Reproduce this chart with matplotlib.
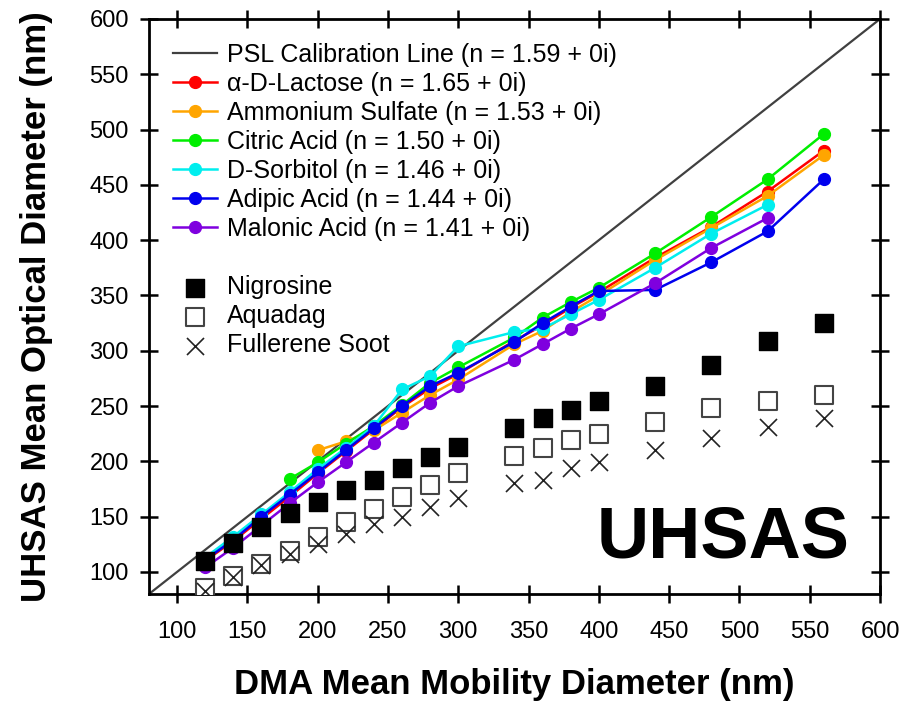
import matplotlib
matplotlib.use("Agg")
import matplotlib.pyplot as plt
from matplotlib.lines import Line2D
import numpy as np

plt.rcParams['font.family'] = ['Liberation Sans', 'DejaVu Sans']

# ---------------- data ----------------
dma_all = [120, 140, 160, 180, 200, 220, 240, 260, 280, 300, 340, 360, 380, 400, 440, 480, 520, 560]

psl_x = [80, 600]
psl_y = [80, 600]

lactose_x = dma_all
lactose_y = [110, 128, 148, 168, 189, 209, 229, 249, 266, 279, 309, 323, 339, 353, 384, 412, 444, 481]

ammsulf_x = [200, 220, 240, 260, 280, 300, 340, 360, 380, 400, 440, 480, 520, 560]
ammsulf_y = [210, 218, 228, 244, 260, 274, 306, 318, 335, 350, 382, 411, 440, 477]

citric_x = [180, 200, 220, 240, 260, 280, 300, 340, 360, 380, 400, 440, 480, 520, 560]
citric_y = [184, 199, 216, 232, 251, 271, 285, 312, 330, 344, 357, 388, 421, 455, 496]

sorbitol_x = [120, 140, 160, 180, 200, 220, 240, 260, 280, 300, 340, 360, 380, 400, 440, 480, 520]
sorbitol_y = [113, 132, 152, 172, 193, 212, 232, 265, 277, 304, 317, 320, 333, 346, 375, 406, 432]

adipic_x = dma_all
adipic_y = [111, 129, 150, 170, 190, 210, 230, 250, 268, 280, 308, 325, 340, 354, 355, 380, 408, 455]

malonic_x = [120, 140, 160, 180, 200, 220, 240, 260, 280, 300, 340, 360, 380, 400, 440, 480, 520]
malonic_y = [104, 122, 142, 162, 181, 199, 217, 235, 253, 268, 292, 306, 320, 333, 361, 393, 420]

nigrosine_y = [110, 126, 141, 153, 163, 174, 183, 194, 204, 213, 230, 239, 246, 255, 268, 287, 309, 325]
aquadag_y = [85, 96, 107, 119, 132, 145, 157, 168, 179, 189, 205, 212, 219, 225, 236, 248, 255, 260]
fullerene_y = [83, 95, 106, 116, 125, 134, 143, 150, 159, 167, 180, 183, 194, 199, 210, 221, 231, 239]

series = [
    ("\u03b1-D-Lactose (n = 1.65 + 0i)", lactose_x, lactose_y, "#ff0000"),
    ("Ammonium Sulfate (n = 1.53 + 0i)", ammsulf_x, ammsulf_y, "#ffa500"),
    ("Citric Acid (n = 1.50 + 0i)", citric_x, citric_y, "#00ee00"),
    ("D-Sorbitol (n = 1.46 + 0i)", sorbitol_x, sorbitol_y, "#00eeee"),
    ("Adipic Acid (n = 1.44 + 0i)", adipic_x, adipic_y, "#0000ee"),
    ("Malonic Acid (n = 1.41 + 0i)", malonic_x, malonic_y, "#7f00df"),
]

ticks = [100, 150, 200, 250, 300, 350, 400, 450, 500, 550, 600]

# ---------------- figure ----------------
fig = plt.figure(figsize=(9.05, 7.06), dpi=100)
ax = fig.add_axes([0.1646, 0.1586, 0.8078, 0.8145])

handles = []
labels = []
h, = ax.plot(psl_x, psl_y, color="#404040", lw=1.6, zorder=2)
handles.append(h); labels.append("PSL Calibration Line (n = 1.59 + 0i)")

for name, xs, ys, c in series:
    h, = ax.plot(xs, ys, color=c, lw=1.8, marker='o', ms=8.5, mec=c, mfc=c, zorder=3)
    handles.append(h); labels.append(name)

h1 = ax.scatter(dma_all, nigrosine_y, marker='s', s=155, color='black', zorder=4)
h2 = ax.scatter(dma_all, aquadag_y, marker='s', s=155, facecolors='white', edgecolors='#444444', linewidths=1.5, zorder=4)
h3 = ax.scatter(dma_all, fullerene_y, marker='x', s=150, color='#222222', linewidths=1.2, zorder=4)

blank = Line2D([], [], linestyle='none', marker=None)
handles += [blank, h1, h2, h3]
labels += [" ", "Nigrosine", "Aquadag", "Fullerene Soot"]

leg = ax.legend(handles, labels, loc='upper left', bbox_to_anchor=(0.033, 0.958),
                frameon=False, fontsize=18, handlelength=1.76, handletextpad=0.4,
                labelspacing=0.2, borderaxespad=0, borderpad=0)

ax.set_xlim(80, 600)
ax.set_ylim(80, 600)
ax.set_xticks(ticks)
ax.set_yticks(ticks)
ax.tick_params(axis='both', which='major', direction='inout', length=13, width=1.8,
               labelsize=17, pad=8, top=True, right=True)
ax.tick_params(axis='x', pad=13)
for s in ax.spines.values():
    s.set_linewidth(2)

ax.set_xlabel("DMA Mean Mobility Diameter (nm)", fontsize=25, fontweight='bold', labelpad=18)
ax.set_ylabel("UHSAS Mean Optical Diameter (nm)", fontsize=25, fontweight='bold', labelpad=26)

ax.text(0.785, 0.097, "UHSAS", transform=ax.transAxes, fontsize=52, fontweight='bold',
        ha='center', va='center')

fig.savefig("out.png", dpi=100)
